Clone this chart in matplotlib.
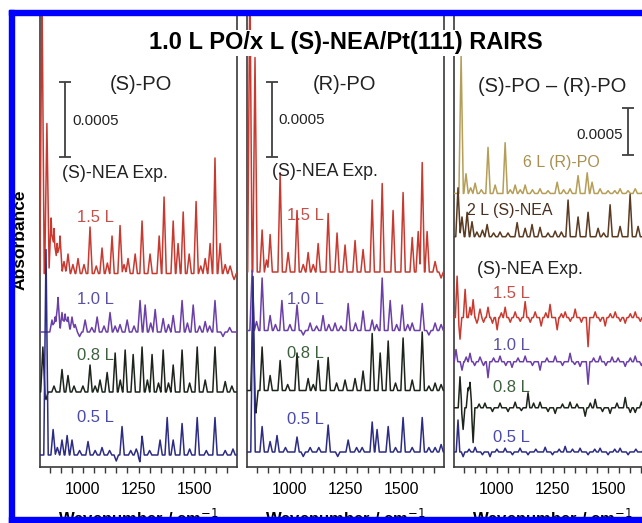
import numpy as np
import matplotlib.pyplot as plt
from matplotlib.patches import Rectangle

plt.rcParams['font.family'] = ['Liberation Sans', 'DejaVu Sans']

W, H = 642, 523

# ---------------- data (wavenumber, peak height in 1e-4 absorbance) ----------------
xlim = (807, 1693)

# panel 1: (S)-PO on (S)-NEA
p1_15_pos = [816, 838, 857, 870, 884, 897, 915, 933, 955, 978, 1005, 1032, 1060, 1086, 1110, 1131,
             1167, 1185, 1203, 1235, 1266, 1302, 1343, 1365, 1406, 1428, 1451, 1478, 1509, 1530,
             1550, 1572, 1594, 1617, 1640, 1662, 1680]
p1_15_amp = [19, 10.0, 3.7, 3.0, 2.0, 2.5, 0.8, 1.3, 0.6, 1.0, 0.6, 3.1, 0.5, 1.7, 0.7, 2.5,
             3.2, 0.6, 1.0, 1.3, 3.5, 1.3, 2.5, 5.1, 3.5, 2.0, 4.1, 1.3, 4.8, 0.5,
             1.0, 2.0, 7.7, 2.0, 0.6, 0.5, -0.4]
p1_10_pos = [861, 875, 888, 906, 920, 933, 951, 965, 985, 1010, 1040, 1064, 1095, 1122, 1145, 1167,
             1199, 1230, 1257, 1280, 1305, 1325, 1361, 1385, 1406, 1446, 1470, 1496, 1525, 1550,
             1570, 1594, 1630, 1660]
p1_10_amp = [0.8, 1.0, 2.3, 1.3, 1.2, 1.0, 1.0, 0.5, -0.3, 0.8, 0.3, 1.0, 0.4, 1.3, 0.4, 0.5,
             0.8, 0.4, 2.1, 1.8, 0.6, 1.5, 0.9, 0.5, 1.1, 2.1, 0.6, 1.8, 0.4, 0.7,
             0.4, 2.1, -0.3, 0.3]
p1_08_pos = [820, 834, 870, 906, 933, 960, 1000, 1032, 1055, 1077, 1109, 1145, 1168, 1190, 1226,
             1266, 1290, 1311, 1340, 1361, 1385, 1406, 1446, 1480, 1514, 1550, 1594, 1640, 1670]
p1_08_amp = [3.0, -0.5, 0.4, 1.5, 1.1, 0.4, 0.4, 1.8, 0.4, 0.8, 1.3, 2.6, 0.8, 2.8, 2.5,
             3.0, 0.8, 2.5, 0.6, 2.8, 0.6, 1.8, 2.8, 0.6, 3.0, 0.8, 3.0, 0.7, 0.4]
p1_05_pos = [834, 866, 885, 906, 929, 951, 985, 1023, 1055, 1086, 1120, 1150, 1176, 1215, 1240,
             1257, 1266, 1300, 1347, 1379, 1406, 1446, 1480, 1514, 1555, 1594, 1640, 1675]
p1_05_amp = [13.7, 1.7, 0.5, 1.0, 1.3, 1.0, 0.3, 0.9, 0.3, 0.5, 0.3, -0.4, 1.9, 0.3, 0.4,
             -0.5, 1.3, 0.3, 1.0, 2.5, 1.0, 2.1, 0.4, 2.5, 0.3, 2.5, 0.3, 0.4]

# panel 2: (R)-PO on (S)-NEA
p2_15_pos = [820, 843, 875, 895, 911, 956, 992, 1032, 1060, 1082, 1105, 1127, 1172, 1212, 1248,
             1293, 1329, 1370, 1415, 1464, 1509, 1550, 1577, 1595, 1617, 1653, 1680]
p2_15_amp = [20, 14.3, 2.8, 0.8, 2.5, 6.6, 1.3, 4.1, 0.5, 1.3, 0.5, 1.9, 3.9, 2.6, 1.8,
             2.1, 1.5, 4.8, 5.9, 4.1, 5.3, 2.3, 2.7, 7.3, 2.7, 0.7, -0.4]
p2_10_pos = [830, 850, 875, 911, 935, 964, 1000, 1032, 1060, 1091, 1120, 1149, 1175, 1203, 1230,
             1262, 1295, 1329, 1370, 1390, 1415, 1451, 1480, 1505, 1530, 1550, 1595, 1625, 1653, 1680]
p2_10_amp = [4.0, 0.6, 3.5, 1.0, 0.4, 2.0, 0.4, 1.7, -0.3, 0.5, 0.3, 1.0, 0.4, 0.5, 0.3,
             1.8, 0.5, 1.3, 0.7, 0.4, 3.5, 2.0, 0.4, 1.7, 0.4, 0.5, 1.8, -0.3, 0.5, 0.4]
p2_08_pos = [834, 847, 875, 911, 956, 990, 1032, 1082, 1105, 1127, 1172, 1210, 1248, 1293, 1329,
             1370, 1406, 1442, 1475, 1509, 1550, 1595, 1625, 1653, 1680]
p2_08_amp = [5.3, -1.5, 2.9, 1.0, 2.0, 0.4, 2.5, 0.8, 0.4, 2.0, 2.2, 0.5, 0.7, 0.8, 1.3,
             3.8, 2.5, 3.3, 0.5, 3.5, 0.7, 3.9, 0.3, 0.5, 0.4]
p2_05_pos = [834, 875, 911, 942, 980, 1032, 1060, 1091, 1130, 1172, 1215, 1262, 1300, 1325, 1370,
             1392, 1442, 1475, 1509, 1550, 1595, 1625, 1653, 1680]
p2_05_amp = [11.7, 1.7, 0.7, 1.1, 0.3, 1.0, -0.3, 0.3, 0.3, 1.8, -0.3, 0.8, 0.3, 0.3, 2.0,
             1.5, 1.7, 0.3, 2.3, 0.3, 2.3, 0.3, 0.3, 0.5]

# panel 3: difference spectra + references
p3_rpo_pos = [839, 861, 882, 902, 930, 960, 992, 1037, 1060, 1082, 1105, 1127, 1160, 1194, 1230,
              1271, 1300, 1329, 1365, 1406, 1428, 1464, 1500, 1530, 1554, 1590, 1622, 1660]
p3_rpo_amp = [14.7, 2.1, 0.6, 1.1, 0.4, 4.9, 0.9, 5.4, 0.4, 0.9, 0.4, 0.9, 0.4, 0.5, 0.3,
              1.2, 0.4, 0.5, 1.9, 2.2, 1.2, 0.5, 0.3, 0.3, 0.5, 0.3, 0.5, 0.3]
p3_nea_pos = [825, 843, 866, 888, 910, 935, 956, 985, 1014, 1050, 1091, 1127, 1158, 1194, 1230,
              1262, 1290, 1320, 1365, 1410, 1455, 1480, 1509, 1554, 1599, 1635, 1665]
p3_nea_amp = [5.2, 2.1, 2.6, 1.6, 0.5, 0.7, 1.3, 0.4, 0.5, 0.4, 1.5, 0.9, 1.3, 1.0, 0.4,
              0.6, 0.5, 3.9, 2.1, 2.6, 0.9, 0.4, 3.4, 1.1, 4.5, 1.1, 0.5]
p3_15_pos = [821, 834, 857, 879, 893, 910, 924, 940, 960, 980, 1001, 1020, 1037, 1060, 1082, 1105,
             1127, 1150, 1172, 1199, 1220, 1239, 1271, 1290, 1307, 1330, 1352, 1380, 1410, 1442,
             1465, 1487, 1510, 1532, 1555, 1577, 1600, 1622, 1645, 1670]
p3_15_amp = [4.4, -2.3, 3.0, 1.1, 1.9, -0.6, 0.9, -0.5, 1.1, -0.6, -1.3, 0.5, 1.1, -0.5, 0.6, -0.4,
             1.7, -0.5, 0.6, -0.9, 0.5, 1.4, -1.3, 0.4, 0.6, -0.4, 0.9, -0.5, -3.1, 0.6,
             -0.4, -0.9, 0.4, 0.6, -0.4, -0.6, 0.4, 0.6, -0.4, 0.4]
p3_10_pos = [816, 843, 862, 879, 900, 924, 940, 960, 985, 1014, 1040, 1068, 1095, 1127, 1160, 1194,
             1225, 1262, 1295, 1329, 1350, 1374, 1410, 1435, 1464, 1490, 1518, 1545, 1577, 1600,
             1622, 1650, 1675]
p3_10_amp = [1.3, -0.9, 0.5, 0.9, -0.4, 0.5, -0.4, -1.7, 0.4, 0.6, -0.4, -0.6, 0.4, 0.6, -0.4, -0.9,
             0.4, 0.6, -0.4, 0.9, -0.3, -0.5, -2.4, 0.4, 0.6, -0.4, 0.5, 0.4, -0.5, 0.4,
             0.6, -0.4, 0.5]
p3_08_pos = [834, 848, 870, 879, 893, 920, 946, 980, 1014, 1050, 1082, 1110, 1140, 1165, 1194,
             1230, 1262, 1295, 1329, 1360, 1397, 1420, 1442, 1475, 1509, 1540, 1577, 1600, 1622,
             1650, 1675]
p3_08_amp = [3.3, -2.3, 2.1, 2.7, -3.7, 0.4, 0.5, -0.4, 0.5, -0.4, 0.6, -0.3, 1.6, 0.5, 0.6,
             -0.4, -0.6, 0.4, 0.6, 0.4, -0.9, 0.5, 0.9, -0.4, -0.6, 0.5, 1.1, -0.5, -0.5,
             0.6, 0.4]
p3_05_pos = [825, 848, 875, 902, 935, 969, 1000, 1037, 1070, 1104, 1140, 1175, 1217, 1250, 1280,
             1307, 1340, 1374, 1410, 1440, 1464, 1500, 1530, 1554, 1590, 1625, 1660]
p3_05_amp = [3.4, -0.5, 0.3, 0.5, -0.3, -0.5, 0.3, 0.4, -0.3, 0.4, -0.3, 0.3, 0.5, -0.3, 0.3,
             0.6, 0.3, 0.4, -0.3, 0.3, 0.4, -0.3, 0.3, 0.4, -0.3, 0.3, 0.3]

# vertical offsets of the traces (1e-4 abs units)
p1_offsets = [12.9, 9.0, 5.0, 0.8]
p2_offsets = [13.0, 9.1, 5.1, 1.0]
p3_offsets = [29.1, 24.5, 15.9, 11.2, 6.3, 1.6]

exp_labels = ['1.5 L', '1.0 L', '0.8 L', '0.5 L']
line_colors = ['#c83a30', '#6a3fa8', '#1c241c', '#2c2c84']
label_colors = ['#c4504a', '#5a50a4', '#3e603e', '#4a4aa8']


def spectrum(grid, pos, amp, hw=10.0):
    y = np.zeros_like(grid)
    for p, a in zip(pos, amp):
        y += a * np.clip(1 - np.abs(grid - p) / hw, 0, None)
    return y


grid = np.arange(800, 1700.5, 1.0)

fig = plt.figure(figsize=(W / 100, H / 100), dpi=100)


def px(x, y):
    return x / W, 1 - y / H


def make_ax(left, ppu):
    top, bottom = 13, 467
    ax = fig.add_axes([left / W, (H - bottom) / H, 197 / W, (bottom - top) / H])
    ax.set_xlim(*xlim)
    ax.set_ylim(0, (bottom - top) / ppu)
    ax.spines['top'].set_visible(False)
    for s in ['left', 'right', 'bottom']:
        ax.spines[s].set_color('#3a3a3a')
        ax.spines[s].set_linewidth(1.2)
    ax.set_yticks([])
    ax.set_xticks([1000, 1250, 1500])
    ax.set_xticks(np.arange(850, 1700, 50), minor=True)
    ax.tick_params(axis='x', which='both', direction='out', length=4, width=1,
                   color='#3a3a3a', labelsize=11.5, pad=7)
    # the label sits under the blue frame, as in the original
    ax.set_xlabel('Wavenumber / cm$^{-1}$', fontsize=12, fontweight='bold', labelpad=8)
    return ax


ax1 = make_ax(40, 15)
ax2 = make_ax(247, 15)
ax3 = make_ax(454, 9.4)

for ax, data, offs in [
    (ax1, [(p1_15_pos, p1_15_amp), (p1_10_pos, p1_10_amp), (p1_08_pos, p1_08_amp), (p1_05_pos, p1_05_amp)], p1_offsets),
    (ax2, [(p2_15_pos, p2_15_amp), (p2_10_pos, p2_10_amp), (p2_08_pos, p2_08_amp), (p2_05_pos, p2_05_amp)], p2_offsets),
]:
    for (pos, amp), off, c in zip(data, offs, line_colors):
        ax.plot(grid, off + spectrum(grid, pos, amp), color=c, lw=1.1, zorder=3)

ax3.plot(grid, p3_offsets[0] + spectrum(grid, p3_rpo_pos, p3_rpo_amp), color='#b59e58', lw=1.1, zorder=3)
ax3.plot(grid, p3_offsets[1] + spectrum(grid, p3_nea_pos, p3_nea_amp), color='#5a3a20', lw=1.1, zorder=3)
for (pos, amp), off, c in zip([(p3_15_pos, p3_15_amp), (p3_10_pos, p3_10_amp),
                               (p3_08_pos, p3_08_amp), (p3_05_pos, p3_05_amp)],
                              p3_offsets[2:], line_colors):
    ax3.plot(grid, off + spectrum(grid, pos, amp, hw=8.0), color=c, lw=1.1, zorder=3)

# scale bars (0.0005 = 5 units)
ax1.errorbar(920, 23.2, yerr=2.5, color='#404040', capsize=4, lw=1.3, capthick=1.3)
ax2.errorbar(920, 23.2, yerr=2.5, color='#404040', capsize=4, lw=1.3, capthick=1.3)
ax3.errorbar(1590, 35.7, yerr=2.5, color='#404040', capsize=4, lw=1.3, capthick=1.3)

# ---------------- text ----------------
fig.text(*px(346, 43), '1.0 L PO/x L (S)-NEA/Pt(111) RAIRS', fontsize=17, fontweight='bold',
         ha='center', va='center', zorder=10,
         bbox=dict(facecolor='white', edgecolor='none', pad=1))

fig.text(*px(141, 84), '(S)-PO', fontsize=14.5, ha='center', va='center', color='#222222')
fig.text(*px(345, 84), '(R)-PO', fontsize=14.5, ha='center', va='center', color='#222222')
fig.text(*px(478, 86), '(S)-PO \u2013 (R)-PO', fontsize=14.5, ha='left', va='center', color='#222222')

fig.text(*px(72, 121), '0.0005', fontsize=10.8, ha='left', va='center', color='#222222')
fig.text(*px(278, 120), '0.0005', fontsize=10.8, ha='left', va='center', color='#222222')
fig.text(*px(623, 135), '0.0005', fontsize=10.8, ha='right', va='center', color='#222222')

fig.text(*px(62, 174), '(S)-NEA Exp.', fontsize=12.8, ha='left', va='center', color='#222222')
fig.text(*px(272, 172), '(S)-NEA Exp.', fontsize=12.8, ha='left', va='center', color='#222222')
fig.text(*px(477, 270), '(S)-NEA Exp.', fontsize=12.8, ha='left', va='center', color='#222222')

fig.text(*px(523, 163), '6 L (R)-PO', fontsize=11.5, ha='left', va='center', color='#a89050')
fig.text(*px(467, 211), '2 L (S)-NEA', fontsize=11.5, ha='left', va='center', color='#4a3020')

for lx, ys in [(77, [217, 300, 355, 418]), (287, [215, 300, 353, 420]), (493, [293, 345, 387, 437])]:
    for t, y, c in zip(exp_labels, ys, label_colors):
        fig.text(*px(lx, y), t, fontsize=12, ha='left', va='center', color=c, zorder=1)

fig.text(*px(20, 240), 'Absorbance', fontsize=12.5, fontweight='bold', rotation=90,
         ha='center', va='center')

# blue frame
for (x0, y0, w, h) in [(9, 10, 5, 513), (9, 10, 633, 5), (9, 517, 633, 6)]:
    fig.patches.append(Rectangle((x0 / W, 1 - (y0 + h) / H), w / W, h / H,
                                 transform=fig.transFigure, color='#0000ff', zorder=20))

fig.savefig('out.png', dpi=100)
